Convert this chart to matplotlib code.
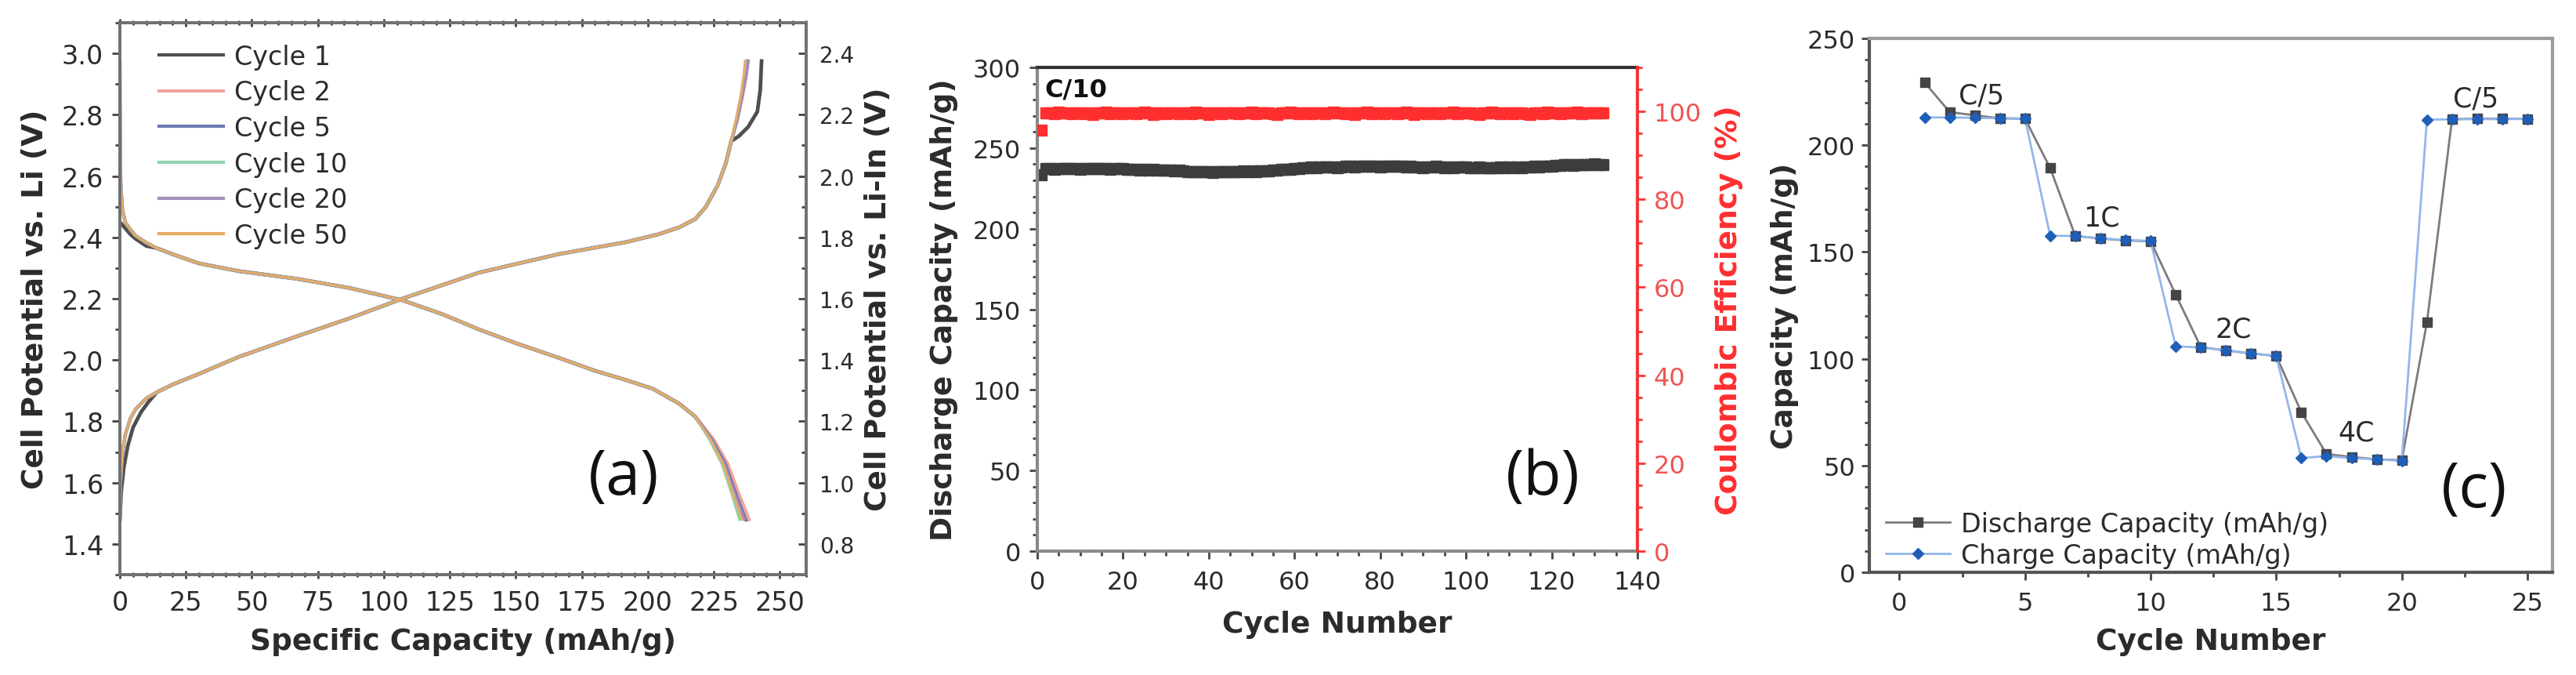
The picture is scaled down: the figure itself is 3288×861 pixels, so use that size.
import numpy as np
import matplotlib
matplotlib.use("Agg")
import matplotlib.pyplot as plt
from matplotlib.ticker import MultipleLocator

W, H = 3288, 862

# ---------------- (a) charge / discharge profiles ----------------
a_labels = ["Cycle 1", "Cycle 2", "Cycle 5", "Cycle 10", "Cycle 20", "Cycle 50"]
a_colors = ["#4f4f4f", "#f2a49c", "#6a7db2", "#8fd3ab", "#a68cbc", "#e3ad66"]

# discharge: start of curve (cycle 1 starts from OCV, others from 2.97 V rest)
dis_head_cap_c1 = [0, 1, 2, 4, 6, 10]
dis_head_v_c1 = [2.45, 2.44, 2.43, 2.41, 2.395, 2.372]
dis_head_cap = [0, 0.15, 0.4, 1, 2, 4, 6, 10]
dis_head_v = [2.97, 2.66, 2.56, 2.49, 2.45, 2.425, 2.405, 2.383]
dis_body_cap = [14, 20, 30, 45, 67, 87, 107, 122, 136, 150, 166, 180, 192, 202, 212, 218]
dis_body_v = [2.365, 2.345, 2.315, 2.29, 2.265, 2.235, 2.195, 2.15, 2.10, 2.055,
              2.008, 1.965, 1.934, 1.906, 1.857, 1.815]
dis_tail_v = [1.74, 1.66, 1.565, 1.48]
dis_tail_cap = [
    [224.5, 229.8, 233.8, 237.6],
    [225.0, 230.3, 234.4, 238.3],
    [224.3, 229.4, 233.3, 237.0],
    [223.5, 228.2, 231.8, 234.8],
    [224.0, 229.0, 232.8, 236.5],
    [223.8, 228.6, 232.3, 235.6],
]

# charge
chg_head_cap_c1 = [0, 0.5, 1.5, 3, 5, 8, 11]
chg_head_v_c1 = [1.48, 1.57, 1.65, 1.72, 1.78, 1.83, 1.865]
chg_head_cap = [0, 0.2, 1, 2, 4, 6, 10]
chg_head_v = [1.48, 1.60, 1.70, 1.755, 1.81, 1.84, 1.875]
chg_body_cap = [14, 20, 30, 45, 67, 87, 107, 136, 166, 192, 204, 212, 218, 222, 226.5, 229.5, 231.6]
chg_body_v = [1.895, 1.92, 1.955, 2.01, 2.077, 2.136, 2.20, 2.285, 2.345, 2.385,
              2.41, 2.433, 2.46, 2.50, 2.57, 2.64, 2.714]
chg_tail_cap_c1 = [234.5, 238.0, 241.5, 242.6, 243.1]
chg_tail_v_c1 = [2.73, 2.76, 2.81, 2.88, 2.975]
chg_tail_v = [2.78, 2.86, 2.93, 2.975]
chg_tail_cap = [
    None,
    [233.8, 235.8, 237.3, 238.0],
    [233.7, 235.7, 237.2, 237.9],
    [233.4, 235.3, 236.5, 237.0],
    [233.7, 235.7, 237.3, 238.0],
    [233.3, 235.2, 236.4, 236.9],
]

# ---------------- (b) long cycling at C/10 ----------------
b_capacity = [
    233.5,
    237.5, 237.2, 237.0, 237.3, 237.4, 237.1, 237.3,
    237.2, 237.0, 237.4, 237.3, 237.1, 237.2, 237.5, 237.3, 237.0, 237.2, 237.4, 237.1,
    236.9, 236.7, 236.8, 236.5, 236.7, 236.4, 236.6, 236.3, 236.5, 236.2, 236.4, 236.0, 236.1, 235.8,
    235.5, 235.3, 235.2, 235.4, 235.1, 235.3, 235.0, 235.2, 235.4, 235.1, 235.3, 235.2, 235.5,
    235.6, 235.4, 235.7, 235.5, 235.8, 235.6, 235.9, 236.1, 236.3,
    236.8, 237.0, 236.9, 237.2, 237.4, 237.6,
    238.0, 238.2, 237.9, 238.3, 238.1, 238.4, 238.2, 238.0, 238.3, 238.5,
    238.6, 238.4, 238.8, 238.5, 238.7, 238.9, 238.6, 238.4, 238.8, 238.7, 238.5, 238.9, 238.6, 238.3, 238.5,
    238.2, 238.4, 238.0, 238.3, 238.1, 238.5, 238.2, 237.9, 238.3, 238.0, 238.4, 238.1, 238.3, 238.0,
    237.8, 238.1, 237.9, 237.7, 238.0, 237.8, 238.2, 237.9, 238.1, 237.8, 238.3, 238.0, 238.4, 238.2,
    238.6, 238.3, 238.7, 238.5, 238.9, 239.1, 239.3,
    239.5, 239.7, 239.4, 239.8, 239.6, 239.9, 239.7, 240.0, 239.8, 239.9,
]
b_ce = [
    95.8,
    99.6, 99.7, 99.5, 99.8, 99.6, 99.7, 99.4, 99.6, 99.7, 99.5,
    99.6, 99.3, 99.7, 99.6, 99.8, 99.5, 99.6, 99.7, 99.4, 99.6,
    99.7, 99.5, 99.6, 99.8, 99.6, 99.3, 99.7, 99.6, 99.5, 99.7,
    99.6, 99.4, 99.7, 99.6, 99.5, 99.8, 99.6, 99.7, 99.3, 99.6,
    99.7, 99.5, 99.6, 99.7, 99.6, 99.4, 99.7, 99.6, 99.8, 99.5,
    99.6, 99.7, 99.6, 99.5, 99.3, 99.7, 99.6, 99.8, 99.6, 99.5,
    99.7, 99.6, 99.4, 99.7, 99.6, 99.5, 99.7, 99.8, 99.6, 99.7,
    99.5, 99.6, 99.3, 99.7, 99.6, 99.8, 99.5, 99.6, 99.7, 99.4,
    99.6, 99.7, 99.5, 99.6, 99.8, 99.6, 99.3, 99.7, 99.6, 99.5,
    99.7, 99.6, 99.4, 99.7, 99.6, 99.8, 99.5, 99.6, 99.7, 99.6,
    99.5, 99.3, 99.7, 99.6, 99.8, 99.6, 99.5, 99.7, 99.6, 99.4,
    99.7, 99.6, 99.5, 99.3, 99.7, 99.6, 99.4, 99.8, 99.6, 99.7,
    99.5, 99.6, 99.7, 99.6, 99.8, 99.5, 99.6, 99.7, 99.6, 99.7,
    99.6,
]

# ---------------- (c) rate capability ----------------
c_cycles = list(range(1, 26))
c_discharge = [229.4, 215.5, 214.0, 212.6, 212.4, 189.3, 157.5, 156.3, 155.4, 155.0,
               130.0, 105.4, 103.9, 102.5, 101.3, 75.0, 55.4, 54.0, 52.9, 52.5,
               117.0, 212.2, 212.4, 212.4, 212.3]
c_charge = [213.0, 213.0, 212.8, 212.6, 212.5, 157.6, 157.5, 156.4, 155.6, 155.2,
            105.8, 105.3, 103.9, 102.5, 101.3, 53.5, 54.4, 53.5, 52.9, 52.2,
            212.0, 212.1, 212.2, 212.2, 212.3]
c_rates = ["C/5", "1C", "2C", "4C", "C/5"]

TXT = "#2b2b2b"
RED = "#ff2f2f"
RED_TXT = "#ef5555"
TICK = 23
LAB = 27


def px_box(left, top, right, bottom):
    return [left / W, (H - bottom) / H, (right - left) / W, (bottom - top) / H]


def style(ax, spine_col="#707070", lw=2.6):
    for s in ax.spines.values():
        s.set_color(spine_col)
        s.set_linewidth(lw)
    ax.tick_params(which="both", colors="#444444", labelcolor=TXT, labelsize=TICK)
    ax.tick_params(which="major", length=7, width=2)
    ax.tick_params(which="minor", length=4, width=2)


fig = plt.figure(figsize=(W / 100, H / 100), dpi=100)

# ---- (a)
ax = fig.add_axes(px_box(153, 30, 1029, 734))
# earlier cycles drawn wider underneath so their colours show at the edges
a_widths = [3.4, 3.2, 3.0, 2.7, 2.5, 2.2]
for i, (lab, col) in enumerate(zip(a_labels, a_colors)):
    if i == 0:
        dc = dis_head_cap_c1 + dis_body_cap + dis_tail_cap[i]
        dv = dis_head_v_c1 + dis_body_v + dis_tail_v
        cc = chg_head_cap_c1 + chg_body_cap + chg_tail_cap_c1
        cv = chg_head_v_c1 + chg_body_v + chg_tail_v_c1
    else:
        dc = dis_head_cap + dis_body_cap + dis_tail_cap[i]
        dv = dis_head_v + dis_body_v + dis_tail_v
        cc = chg_head_cap + chg_body_cap + chg_tail_cap[i]
        cv = chg_head_v + chg_body_v + chg_tail_v
    ax.plot(dc, dv, color=col, lw=a_widths[i], label=lab, solid_joinstyle="round")
    ax.plot(cc, cv, color=col, lw=a_widths[i], solid_joinstyle="round")
ax.set_xlim(0, 260)
ax.set_ylim(1.3, 3.1)
ax.xaxis.set_major_locator(MultipleLocator(25))
ax.xaxis.set_minor_locator(MultipleLocator(5))
ax.yaxis.set_major_locator(MultipleLocator(0.2))
ax.yaxis.set_minor_locator(MultipleLocator(0.1))
ax.yaxis.set_major_formatter(matplotlib.ticker.FormatStrFormatter("%.1f"))
style(ax)
ax.tick_params(axis="y", labelsize=24, pad=8)
ax.tick_params(axis="x", labelsize=24, pad=10)
ax.tick_params(axis="x", which="both", top=True, direction="inout")
ax.set_xlabel("Specific Capacity (mAh/g)", fontsize=LAB, fontweight="bold", color=TXT)
ax.set_ylabel("Cell Potential vs. Li (V)", fontsize=LAB, fontweight="bold", color=TXT)
ax.xaxis.set_label_coords(0.5, -0.121)
ax.xaxis.label.set_va("center")
ax.yaxis.set_label_coords(-0.123, 0.5)
ax.yaxis.label.set_va("center")
leg = ax.legend(loc="upper left", bbox_to_anchor=(0.057, 0.962), frameon=False,
                fontsize=24, handlelength=2.45, handletextpad=0.42, labelspacing=0.38,
                borderpad=0, borderaxespad=0)
for t in leg.get_texts():
    t.set_color(TXT)
for h in leg.get_lines():
    h.set_linewidth(3)
ax.text(0.734, 0.176, "(a)", transform=ax.transAxes, fontsize=57,
        family="Open Sans", ha="center", va="center", color="#111111")

ax2 = ax.twinx()
ax2.set_ylim(0.7, 2.5)
ax2.yaxis.set_major_locator(MultipleLocator(0.2))
ax2.yaxis.set_minor_locator(MultipleLocator(0.1))
ax2.yaxis.set_major_formatter(matplotlib.ticker.FormatStrFormatter("%.1f"))
style(ax2)
ax2.tick_params(axis="y", which="both", direction="in", labelsize=20, pad=12)
ax2.set_ylabel("Cell Potential vs. Li-In (V)", fontsize=LAB, fontweight="bold", color=TXT)
ax2.yaxis.set_label_coords(1.105, 0.5)
ax2.yaxis.label.set_va("center")

# ---- (b)
bx = fig.add_axes(px_box(1324, 87, 2090, 704))
b_cycles = np.arange(1, len(b_capacity) + 1)
bx.plot(b_cycles, b_capacity, ls="none", marker="s", ms=10, color="#3c3c3c", mec="#3c3c3c")
bx.set_xlim(0, 140)
bx.set_ylim(0, 300)
bx.xaxis.set_major_locator(MultipleLocator(20))
bx.xaxis.set_minor_locator(MultipleLocator(5))
bx.yaxis.set_major_locator(MultipleLocator(50))
bx.yaxis.set_minor_locator(MultipleLocator(10))
style(bx, "#8a8a8a", 3)
bx.spines["top"].set_color("#333333")
bx.tick_params(axis="y", pad=8)
bx.tick_params(axis="x", pad=10)
bx.set_xlabel("Cycle Number", fontsize=LAB, fontweight="bold", color=TXT)
bx.set_ylabel("Discharge Capacity (mAh/g)", fontsize=LAB, fontweight="bold", color=TXT)
bx.xaxis.set_label_coords(0.5, -0.151)
bx.xaxis.label.set_va("center")
bx.yaxis.set_label_coords(-0.155, 0.5)
bx.yaxis.label.set_va("center")
bx.text(0.012, 0.955, "C/10", transform=bx.transAxes, fontsize=23, fontweight="bold",
        ha="left", va="center", color="#111111")
bx.text(0.843, 0.152, "(b)", transform=bx.transAxes, fontsize=57,
        family="Open Sans", ha="center", va="center", color="#111111")

bx2 = bx.twinx()
bx2.plot(b_cycles, b_ce, ls="none", marker="s", ms=10, color=RED, mec=RED)
bx2.set_ylim(0, 110)
bx2.yaxis.set_major_locator(MultipleLocator(20))
bx2.yaxis.set_minor_locator(MultipleLocator(5))
for s in bx2.spines.values():
    s.set_visible(False)
bx2.spines["right"].set_visible(True)
bx2.spines["right"].set_color(RED)
bx2.spines["right"].set_linewidth(2.6)
bx2.tick_params(which="both", colors=RED, labelcolor=RED_TXT, labelsize=TICK, pad=8)
bx2.tick_params(which="major", length=7, width=2)
bx2.tick_params(which="minor", length=4, width=2)
bx2.set_ylabel("Coulombic Efficiency (%)", fontsize=LAB, fontweight="bold", color=RED)
bx2.yaxis.set_label_coords(1.153, 0.5)
bx2.yaxis.label.set_va("center")

# ---- (c)
cx = fig.add_axes(px_box(2386, 50, 3258, 731))
cx.plot(c_cycles, c_discharge, color="#7c7c7c", lw=2, marker="s", ms=8,
        mfc="#454545", mec="#454545", label="Discharge Capacity (mAh/g)")
cx.plot(c_cycles, c_charge, color="#93b6ea", lw=2, marker="D", ms=7,
        mfc="#1f5fb8", mec="#1f5fb8", label="Charge Capacity (mAh/g)")
cx.set_xlim(-1.2, 26)
cx.set_ylim(0, 250)
cx.xaxis.set_major_locator(MultipleLocator(5))
cx.xaxis.set_minor_locator(MultipleLocator(2.5))
cx.yaxis.set_major_locator(MultipleLocator(50))
cx.yaxis.set_minor_locator(MultipleLocator(10))
style(cx, "#555555", 3)
cx.spines["top"].set_color("#9a9a9a")
cx.spines["right"].set_color("#9a9a9a")
cx.tick_params(axis="y", pad=6)
cx.tick_params(axis="x", pad=10)
cx.set_xlabel("Cycle Number", fontsize=LAB, fontweight="bold", color=TXT)
cx.set_ylabel("Capacity (mAh/g)", fontsize=LAB, fontweight="bold", color=TXT)
cx.xaxis.set_label_coords(0.5, -0.129)
cx.xaxis.label.set_va("center")
cx.yaxis.set_label_coords(-0.124, 0.5)
cx.yaxis.label.set_va("center")
for lab, (tx, ty) in zip(c_rates, [(3.25, 223.5), (8.05, 166), (13.3, 114), (18.2, 65.5), (22.95, 222)]):
    cx.text(tx, ty, lab, fontsize=25, ha="center", va="center", color=TXT)
leg = cx.legend(loc="lower left", bbox_to_anchor=(0.024, 0.008), frameon=False,
                fontsize=24, handlelength=2.45, handletextpad=0.42, labelspacing=0.2,
                borderpad=0, borderaxespad=0)
for t in leg.get_texts():
    t.set_color(TXT)
cx.text(0.885, 0.153, "(c)", transform=cx.transAxes, fontsize=57,
        family="Open Sans", ha="center", va="center", color="#111111")

fig.savefig("out.png", dpi=100)
